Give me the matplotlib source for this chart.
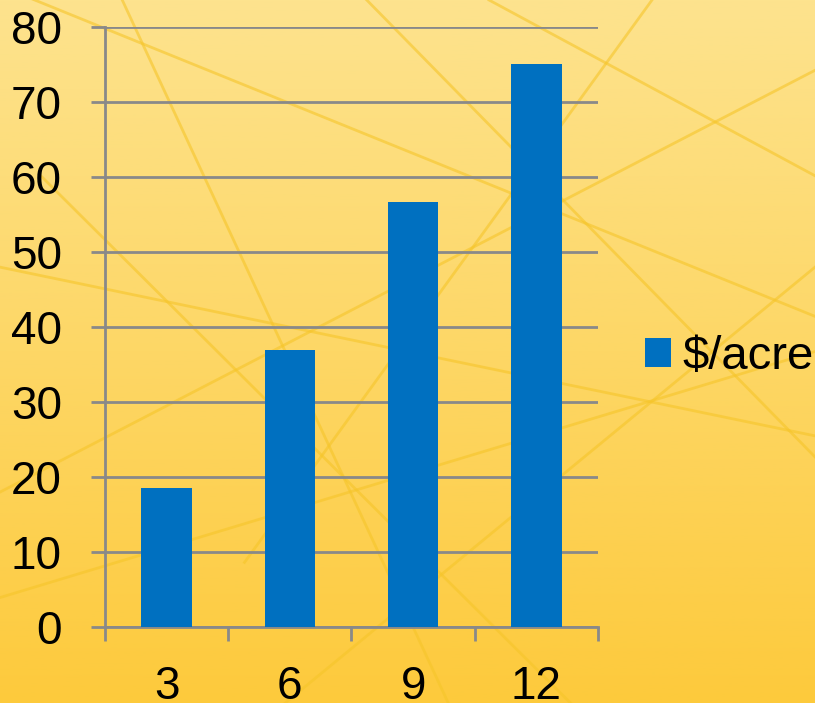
import numpy as np
import matplotlib
matplotlib.use("Agg")
import matplotlib.pyplot as plt
from matplotlib.colors import LinearSegmentedColormap

categories = ["3", "6", "9", "12"]
values = [18.5, 36.9, 56.7, 75.0]
series_name = "$/acre"
y_ticks = [0, 10, 20, 30, 40, 50, 60, 70, 80]

plt.rcParams['font.family'] = ['Liberation Sans', 'DejaVu Sans']

fig = plt.figure(figsize=(8.15, 7.03), dpi=100)

# yellow gradient background
bg = fig.add_axes([0, 0, 1, 1], zorder=-10)
cmap = LinearSegmentedColormap.from_list("bg", ["#fde38e", "#fdd766", "#fdca3c"])
grad = np.linspace(0, 1, 256).reshape(-1, 1)
bg.imshow(grad, aspect="auto", cmap=cmap, extent=[0, 1, 0, 1], origin="upper")
# decorative streaks
streaks = [((0.0, 1.02), (1.0, 0.55)), ((0.15, 1.0), (0.55, 0.0)), ((0.0, 0.3), (1.0, 0.9)),
           ((0.45, 1.0), (1.0, 0.35)), ((0.0, 0.62), (1.0, 0.38)), ((0.8, 1.0), (0.3, 0.2)),
           ((0.0, 0.15), (1.0, 0.5)), ((0.6, 1.0), (1.0, 0.75)), ((0.05, 0.75), (0.7, 0.0)),
           ((0.35, 0.0), (1.0, 0.62))]
for (x0, y0), (x1, y1) in streaks:
    bg.plot([x0, x1], [y0, y1], color="#f6c52a", lw=2, alpha=0.6)
bg.set_xlim(0, 1)
bg.set_ylim(0, 1)
bg.axis("off")

ax = fig.add_axes([0.1288, 0.1081, 0.6049, 0.8535])
ax.patch.set_alpha(0)
x = np.arange(len(categories))
ax.bar(x, values, width=0.41, color="#0070c0", label=series_name, zorder=3)

ax.set_ylim(0, 80)
ax.set_xlim(-0.5, len(categories) - 0.5)
ax.set_yticks(y_ticks)
ax.yaxis.grid(True, color="#898989", lw=2)
ax.set_axisbelow(True)

ax.set_xticks(np.arange(len(categories) + 1) - 0.5)
ax.set_xticklabels([])
ax.set_xticks(x, minor=True)
ax.set_xticklabels(categories, minor=True)
ax.tick_params(axis="x", which="major", length=10, width=2, color="#898989", direction="out")
ax.tick_params(axis="x", which="minor", length=0, pad=27, labelsize=33)
ax.tick_params(axis="y", length=10, width=2, color="#898989", pad=21, labelsize=33)

for s in ["top", "right"]:
    ax.spines[s].set_visible(False)
for s in ["left", "bottom"]:
    ax.spines[s].set_color("#898989")
    ax.spines[s].set_linewidth(2)

leg = ax.legend(loc="center left", bbox_to_anchor=(1.095, 0.45), frameon=False,
                fontsize=34, handlelength=0.55, handleheight=0.55, handletextpad=0.25,
                borderpad=0, borderaxespad=0)

fig.savefig("out.png", dpi=100)
